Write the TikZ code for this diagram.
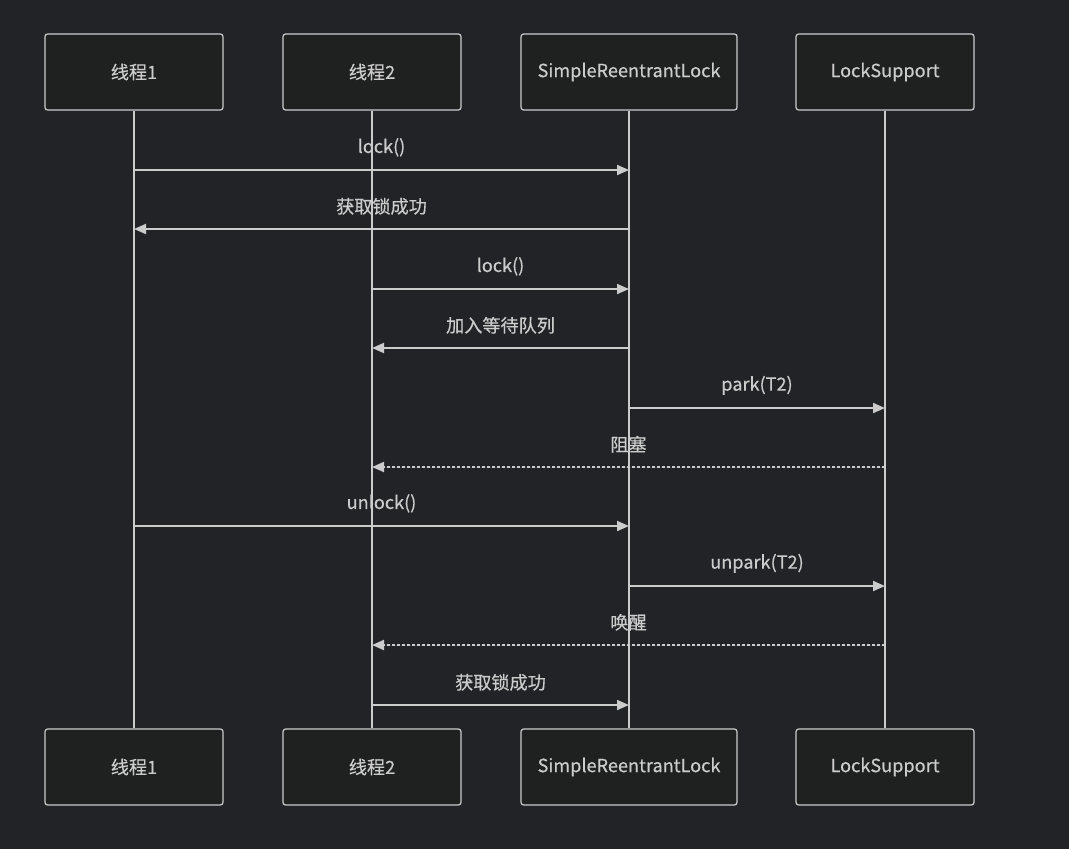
\documentclass[tikz,border=0pt]{standalone}
\usepackage{fontspec}
\setmainfont{Noto Sans CJK SC}[FakeBold=0.4]
\usepackage{tikz}
\usetikzlibrary{arrows.meta}
\definecolor{bg}{HTML}{222327}
\definecolor{boxfill}{HTML}{1F2020}
\definecolor{ink}{HTML}{CCCCCC}
\newcommand\BOT{767}

\begin{document}
\begin{tikzpicture}[x=0.75pt,y=-0.75pt,font=\fontsize{13.6}{16}\selectfont,
                    >={Triangle[length=9pt,width=7.5pt]}]

  \tikzstyle{actor}=[rectangle,draw=ink,fill=boxfill,text=ink,rounded corners=2pt,
                     line width=0.9pt,minimum width=133.5pt,minimum height=57pt]
  \tikzstyle{life}=[draw=ink,line width=1.4pt]
  \tikzstyle{msg}=[->,draw=ink,fill=ink,line width=1.4pt]
  \tikzstyle{reply}=[msg,dash pattern=on 2.25pt off 1.5pt]
  \tikzstyle{lbl}=[midway,yshift=17pt,text=ink,fill=none]

  \fill[bg] (0,0) rectangle (1069,849);
  \useasboundingbox (0,0) rectangle (1069,849);

  \node[actor] (t1)   at (134,72)  {线程1};
  \node[actor] (t2)   at (372,72)  {线程2};
  \node[actor,minimum width=162pt] (srl) at (629,72) {SimpleReentrantLock};
  \node[actor] (ls)   at (885,72)  {LockSupport};

  \node[actor] (t1b)  at (134,\BOT) {线程1};
  \node[actor] (t2b)  at (372,\BOT) {线程2};
  \node[actor,minimum width=162pt] (srlb) at (629,\BOT) {SimpleReentrantLock};
  \node[actor] (lsb)  at (885,\BOT) {LockSupport};

  \path[life] (t1) -- (t1b)  (t2) -- (t2b)  (srl) -- (srlb)  (ls) -- (lsb);

  % message rows
  \coordinate (m1)  at (0,170);
  \coordinate (m2)  at (0,229);
  \coordinate (m3)  at (0,289);
  \coordinate (m4)  at (0,348);
  \coordinate (m5)  at (0,408);
  \coordinate (m6)  at (0,467);
  \coordinate (m7)  at (0,526);
  \coordinate (m8)  at (0,586);
  \coordinate (m9)  at (0,645);
  \coordinate (m10) at (0,705);

  \draw[msg]   (t1 |- m1)  -- node[lbl] {lock()}      (srl |- m1);
  \draw[msg]   (srl |- m2) -- node[lbl] {获取锁成功}  (t1 |- m2);
  \draw[msg]   (t2 |- m3)  -- node[lbl] {lock()}      (srl |- m3);
  \draw[msg]   (srl |- m4) -- node[lbl] {加入等待队列} (t2 |- m4);
  \draw[msg]   (srl |- m5) -- node[lbl] {park(T2)}    (ls |- m5);
  \draw[reply] (ls |- m6)  -- node[lbl] {阻塞}        (t2 |- m6);
  \draw[msg]   (t1 |- m7)  -- node[lbl] {unlock()}    (srl |- m7);
  \draw[msg]   (srl |- m8) -- node[lbl] {unpark(T2)}  (ls |- m8);
  \draw[reply] (ls |- m9)  -- node[lbl] {唤醒}        (t2 |- m9);
  \draw[msg]   (t2 |- m10) -- node[lbl] {获取锁成功}  (srl |- m10);
\end{tikzpicture}
\end{document}
